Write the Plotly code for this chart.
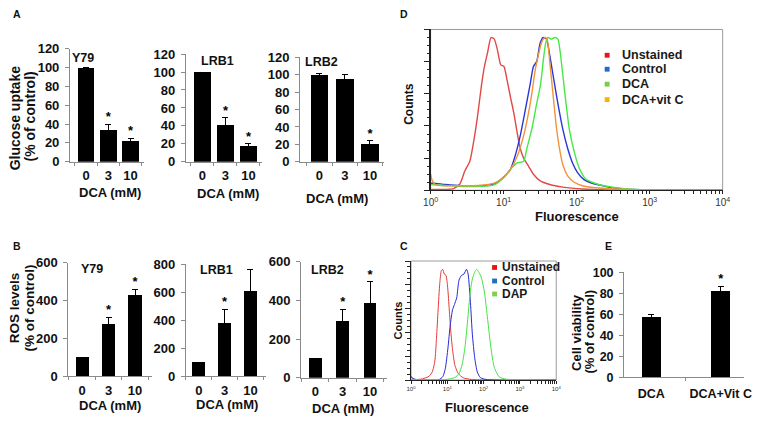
import plotly.graph_objects as go

# ---------------- DATA ----------------
dca_levels = ["0", "3", "10"]

gluc_y79 = [100, 34, 22]
gluc_y79_err = [0, 6, 3]
gluc_y79_sig = ["", "*", "*"]
gluc_lrb1 = [100, 41, 18]
gluc_lrb1_err = [0, 8, 2]
gluc_lrb1_sig = ["", "*", "*"]
gluc_lrb2 = [100, 95, 21]
gluc_lrb2_err = [1, 5, 3]
gluc_lrb2_sig = ["", "", "*"]

ros_y79 = [100, 277, 430]
ros_y79_err = [0, 35, 30]
ros_y79_sig = ["", "*", "*"]
ros_lrb1 = [100, 380, 610]
ros_lrb1_err = [0, 100, 150]
ros_lrb1_sig = ["", "*", "*"]
ros_lrb2 = [100, 291, 384]
ros_lrb2_err = [0, 63, 111]
ros_lrb2_sig = ["", "*", "*"]

viab_groups = ["DCA", "DCA+Vit C"]
viab_vals = [57.5, 82]
viab_err = [2, 4.5]
viab_sig = ["", "*"]

# Panel D histograms (fluorescence, counts as % of box height)
d_unst_x = [1.0, 1.59, 2.06, 2.52, 2.94, 3.44, 4.01, 4.45, 4.93, 5.46, 6.05, 6.71, 7.44, 8.25, 9.14,
            10.1, 11.2, 12.4, 13.8, 15.3, 16.9, 18.8, 21.9, 25.6, 31.4, 42.8, 64.6, 120, 273, 10000]
d_unst_y = [0.5, 0.5, 1, 4, 12, 18, 34, 48, 64, 77, 86, 95, 94, 87, 78,
            77, 68, 58, 48, 36, 26, 20, 15, 10, 6, 3.6, 2, 0.8, 0.2, 0]
d_ctrl_x = [1.0, 1.108, 1.59, 2.66, 4.45, 7.44, 10.1, 12.4, 14.5, 16.9, 19.8, 23.1, 25.6, 28.4, 31.4,
            34.8, 38.6, 42.8, 47.4, 55.3, 64.6, 75.4, 87.9, 103, 126, 163, 222, 335, 763, 10000]
d_ctrl_y = [4.4, 4.4, 3.6, 2.8, 2.6, 4, 8.4, 13, 22, 34, 50, 66, 77, 80, 91,
            95, 94, 84, 72, 54, 38, 26, 17, 11, 6.6, 4.4, 3, 1.2, 0.4, 0]
d_dca_x = [1.0, 1.59, 2.66, 4.45, 7.44, 10.1, 12.4, 15.3, 18.8, 20.8, 24.3, 28.4, 32.1, 34.8, 37.8,
           40.6, 45.1, 49.9, 55.3, 59.5, 64.6, 71.6, 79.3, 92.6, 108, 133, 163, 200, 273, 506, 1277, 10000]
d_dca_y = [3.6, 3, 2.4, 2.4, 3.4, 8, 13, 17, 18, 26, 38, 54, 66, 80, 92,
           95, 94, 95, 94, 86, 72, 54, 38, 24, 14, 7, 5, 3.6, 2.4, 0.8, 0.2, 0]
d_vitc_x = [1.0, 1.053, 1.167, 1.59, 2.66, 4.45, 7.44, 10.1, 12.4, 15.3, 18.8, 21.9, 24.3, 26.9, 29.9,
            33.1, 36.7, 39.4, 42.8, 47.4, 52.6, 58.2, 64.6, 75.4, 92.6, 120, 181, 335, 763, 10000]
d_vitc_y = [10, 6, 3.4, 2.8, 2.8, 3, 4.4, 8.4, 13, 21, 34, 48, 60, 74, 84,
            92, 95, 94, 80, 60, 40, 26, 16, 9, 5, 2.8, 1.6, 0.8, 0.2, 0]
d_names = ["Unstained", "Control", "DCA", "DCA+vit C"]

# Panel C histograms
c_unst_x = [1.0, 1.23, 2.06, 3.12, 3.84, 4.53, 5.02, 5.57, 6.18, 6.85, 7.45, 8.26, 9.16, 10.2, 11.3,
            12.5, 14.1, 16.3, 20.1, 27.4, 46.0, 105, 10000]
c_unst_y = [2.7, 0.5, 1, 3.2, 6.8, 16, 35, 59, 81, 92, 93, 89, 88, 78, 59,
            40.5, 24, 12, 5.4, 1.9, 0.5, 0, 0]
c_ctrl_x = [1.0, 1.11, 1.51, 5.81, 7.45, 8.78, 10.4, 12.0, 13.9, 15.7, 18.1, 21.0, 24.7, 28.6, 33.7,
            37.4, 43.3, 49.0, 56.6, 66.8, 82.1, 129, 10000]
c_ctrl_y = [3.2, 1.4, 0.3, 0.3, 2.7, 9.5, 27, 46, 59, 63.5, 69, 84, 88, 89, 93,
            89, 65, 38, 19, 6.8, 1.9, 0.3, 0]
c_dap_x = [1.0, 8.78, 16.3, 21.0, 25.8, 30.4, 35.9, 42.4, 49.0, 56.6, 64.1, 74.1, 85.7, 105, 129,
           159, 196, 267, 405, 834, 10000]
c_dap_y = [0.5, 0.3, 2.2, 5.4, 13.5, 27, 48.6, 73, 85, 90.5, 93, 90.5, 86.5, 74, 51,
           27, 10.8, 2.7, 0.8, 0.3, 0]
c_names = ["Unstained", "Control", "DAP"]

log_tickvals = [1, 2, 3, 4, 5, 6, 7, 8, 9, 10, 20, 30, 40, 50, 60, 70, 80, 90, 100, 200, 300, 400, 500,
                600, 700, 800, 900, 1000, 2000, 3000, 4000, 5000, 6000, 7000, 8000, 9000, 10000]
log_ticktext = ["10<sup>0</sup>", "", "", "", "", "", "", "", "", "10<sup>1</sup>", "", "", "", "", "", "",
                "", "", "10<sup>2</sup>", "", "", "", "", "", "", "", "", "10<sup>3</sup>", "", "", "", "",
                "", "", "", "", "10<sup>4</sup>"]

# ---------------- LAYOUT HELPERS ----------------
W, H = 761, 425
FONT = "Liberation Sans, Arial, sans-serif"
AXGRAY = "#8a8a8a"


def fx(p):
    return p / W


def fy(p):
    return 1 - p / H


fig = go.Figure()
annotations = []
shapes = []


def ann(text, x, y, size, angle=0, xanchor="center", yanchor="middle", bold=True, color="#111"):
    annotations.append(dict(text=text, x=fx(x), y=fy(y), xref="paper", yref="paper", showarrow=False,
                            textangle=angle, xanchor=xanchor, yanchor=yanchor,
                            font=dict(family=FONT, size=size, color=color,
                                      weight="bold" if bold else "normal")))


def bar_panel(idx, cats, vals, errs, sig, xpx0, spacing, xr, ypx_top, ypx_bot, yr, dtick, width,
              tickfs=13, ylabstand=3, xlabstand=2):
    xa = "x" if idx == 1 else f"x{idx}"
    ya = "y" if idx == 1 else f"y{idx}"
    fig.add_trace(go.Bar(x=cats, y=vals, xaxis=xa, yaxis=ya, width=width, marker_color="black",
                         marker_line_width=0, hoverinfo="skip",
                         error_y=dict(type="data", array=errs, visible=True, color="black",
                                      thickness=1, width=3)))
    fig.add_trace(go.Scatter(x=cats, y=[v + e for v, e in zip(vals, errs)], xaxis=xa, yaxis=ya,
                             mode="text", text=sig, textposition="top center", hoverinfo="skip",
                             textfont=dict(family=FONT, size=13, color="black", weight="bold")))
    xend = xpx0 + (xr[1] - xr[0]) * spacing
    fig.layout[f"xaxis{idx if idx > 1 else ''}"] = dict(
        domain=[fx(xpx0), fx(xend)], anchor=ya, type="category", range=xr, showline=True,
        linecolor=AXGRAY, linewidth=1, ticks="outside", tickson="boundaries", ticklen=3,
        tickcolor=AXGRAY, showgrid=False, zeroline=False, ticklabelstandoff=xlabstand, tickangle=0,
        tickfont=dict(family=FONT, size=tickfs, color="#111", weight="bold"), fixedrange=True)
    fig.layout[f"yaxis{idx if idx > 1 else ''}"] = dict(
        domain=[fy(ypx_bot), fy(ypx_top)], anchor=xa, range=yr, dtick=dtick, showline=True,
        linecolor=AXGRAY, linewidth=1, ticks="outside", ticklen=4, tickcolor=AXGRAY,
        showgrid=False, zeroline=False, ticklabelstandoff=ylabstand, tickangle=0,
        tickfont=dict(family=FONT, size=tickfs, color="#111", weight="bold"), fixedrange=True)


# ---------- Panel A ----------
bar_panel(1, dca_levels, gluc_y79, gluc_y79_err, gluc_y79_sig, 63.3, 22.75, [-0.72, 2.6], 43.3, 160.3, [0, 120], 20, 0.76)
bar_panel(2, dca_levels, gluc_lrb1, gluc_lrb1_err, gluc_lrb1_sig, 181.7, 23.5, [-0.72, 2.6], 48.8, 160.5, [0, 120], 20, 0.76)
bar_panel(3, dca_levels, gluc_lrb2, gluc_lrb2_err, gluc_lrb2_sig, 298.3, 25.8, [-0.77, 2.55], 52.0, 160.5, [0, 120], 20, 0.7)
# ---------- Panel B ----------
bar_panel(4, dca_levels, ros_y79, ros_y79_err, ros_y79_sig, 61.7, 27.0, [-0.52, 2.63], 265.0, 382.7, [0, 600], 200, 0.5)
bar_panel(5, dca_levels, ros_lrb1, ros_lrb1_err, ros_lrb1_sig, 181.7, 26.4, [-0.5, 2.6], 266.7, 382.7, [0, 800], 200, 0.5)
bar_panel(6, dca_levels, ros_lrb2, ros_lrb2_err, ros_lrb2_sig, 299.3, 28.0, [-0.52, 2.6], 264.0, 384.3, [0, 600], 200, 0.46)
# ---------- Panel E ----------
bar_panel(9, viab_groups, viab_vals, viab_err, viab_sig, 629.3, 71.0, [-0.39, 1.33], 275.0, 384.0, [0, 100], 20, 0.27, tickfs=12.5, xlabstand=5)


# ---------- Histogram panels ----------
def hist_panel(idx, series, colors, xpx0, xpx1, ypx_top, ypx_bot, tickfs, width):
    xa, ya = f"x{idx}", f"y{idx}"
    for (xs, ys), c in zip(series, colors):
        fig.add_trace(go.Scatter(x=xs, y=ys, xaxis=xa, yaxis=ya, mode="lines",
                                 line=dict(color=c, width=width, shape="spline", smoothing=0.6),
                                 hoverinfo="skip"))
    fig.layout[f"xaxis{idx}"] = dict(
        domain=[fx(xpx0), fx(xpx1)], anchor=ya, type="log", range=[0, 4], showline=True,
        linecolor="#222", linewidth=1.2, ticks="outside", ticklen=3, tickcolor="#222", tickangle=0,
        tickmode="array", tickvals=log_tickvals, ticktext=log_ticktext, showgrid=False, zeroline=False,
        tickfont=dict(family=FONT, size=tickfs, color="#333"), fixedrange=True)
    fig.layout[f"yaxis{idx}"] = dict(
        domain=[fy(ypx_bot), fy(ypx_top)], anchor=xa, range=[0, 100], showline=True,
        linecolor="#222", linewidth=1.2, ticks="outside", ticklen=5, tickcolor="#222", dtick=20,
        showticklabels=False, showgrid=False, zeroline=False, fixedrange=True,
        minor=dict(ticks="outside", dtick=5, ticklen=2.5, tickcolor="#222"))
    shapes.append(dict(type="rect", xref=f"x{idx} domain", yref=f"y{idx} domain", x0=0, x1=1, y0=0, y1=1,
                       line=dict(color="#9a9a9a", width=1), layer="below"))


hist_panel(7, [(c_unst_x, c_unst_y), (c_ctrl_x, c_ctrl_y), (c_dap_x, c_dap_y)],
           ["#e63a3a", "#2a2ad6", "#44e044"], 411.7, 560, 263.3, 386.7, 6, 1.0)
hist_panel(8, [(d_unst_x, d_unst_y), (d_ctrl_x, d_ctrl_y), (d_dca_x, d_dca_y), (d_vitc_x, d_vitc_y)],
           ["#e24848", "#2a36d8", "#46e846", "#f2923a"], 431.7, 730, 23.3, 190, 10, 1.4)

# legends
d_sq_colors = ["#e8141c", "#1e6ec8", "#7acc48", "#f7b500"]
for name, c, yy in zip(d_names, d_sq_colors, [50, 64.5, 80, 96]):
    shapes.append(dict(type="rect", xref="paper", yref="paper", x0=fx(609.5), x1=fx(614.5),
                       y0=fy(yy + 2.5), y1=fy(yy - 2.5), fillcolor=c, line=dict(width=0)))
    ann(name, 625, yy, 12.5, xanchor="left", color="#1a1a1a")
c_sq_colors = ["#ee1010", "#2070c0", "#80d050"]
for name, c, yy in zip(c_names, c_sq_colors, [270, 284, 297.5]):
    shapes.append(dict(type="rect", xref="paper", yref="paper", x0=fx(494.5), x1=fx(499.5),
                       y0=fy(yy + 2.5), y1=fy(yy - 2.5), fillcolor=c, line=dict(width=0)))
    ann(name, 502.5, yy, 12, xanchor="left", color="#1a1a1a")

# ---------- Text ----------
ann("A", 3, 7, 10.5, xanchor="left")
ann("B", 3, 248, 10.5, xanchor="left")
ann("C", 398, 248, 10.5, xanchor="left")
ann("D", 398, 7, 10.5, xanchor="left")
ann("E", 607.5, 248, 10.5, xanchor="left")

ann("Y79", 63.5, 52.5, 12.5, xanchor="left")
ann("LRB1", 195, 55.8, 12.5, xanchor="left")
ann("LRB2", 301.7, 57.5, 12.5, xanchor="left")
ann("Y79", 72.7, 271.7, 12.5, xanchor="left")
ann("LRB1", 194.3, 272.5, 12.5, xanchor="left")
ann("LRB2", 307.3, 272.5, 12.5, xanchor="left")

ann("DCA (mM)", 104.5, 192.7, 13)
ann("DCA (mM)", 225, 193, 13)
ann("DCA (mM)", 336, 199, 13)
ann("DCA (mM)", 104, 413, 13)
ann("DCA (mM)", 224, 411.7, 13)
ann("DCA (mM)", 342, 416, 13)

ann("Glucose uptake", 7.5, 115, 14, angle=-90)
ann("(% of control)", 22, 114, 14, angle=-90)
ann("ROS levels", 7.5, 312, 13.5, angle=-90)
ann("(% of control)", 22, 312, 13.5, angle=-90)
ann("Cell viability", 580, 337, 13, angle=-90)
ann("(% of control)", 594, 337, 13, angle=-90)

ann("Counts", 410, 100, 12, angle=-90)
ann("Fluorescence", 581.7, 216.7, 13)
ann("Counts", 398.3, 325, 11, angle=-90)
ann("Fluorescence", 489, 415, 13)

fig.update_layout(width=W, height=H, margin=dict(l=0, r=0, t=0, b=0), autosize=False,
                  paper_bgcolor="white", plot_bgcolor="rgba(0,0,0,0)", showlegend=False,
                  annotations=annotations, shapes=shapes, bargap=0, hovermode=False)

fig.write_html("out.html", config={"displayModeBar": False, "staticPlot": True},
               post_script="document.body.style.margin='0px';document.body.style.overflow='hidden';")
